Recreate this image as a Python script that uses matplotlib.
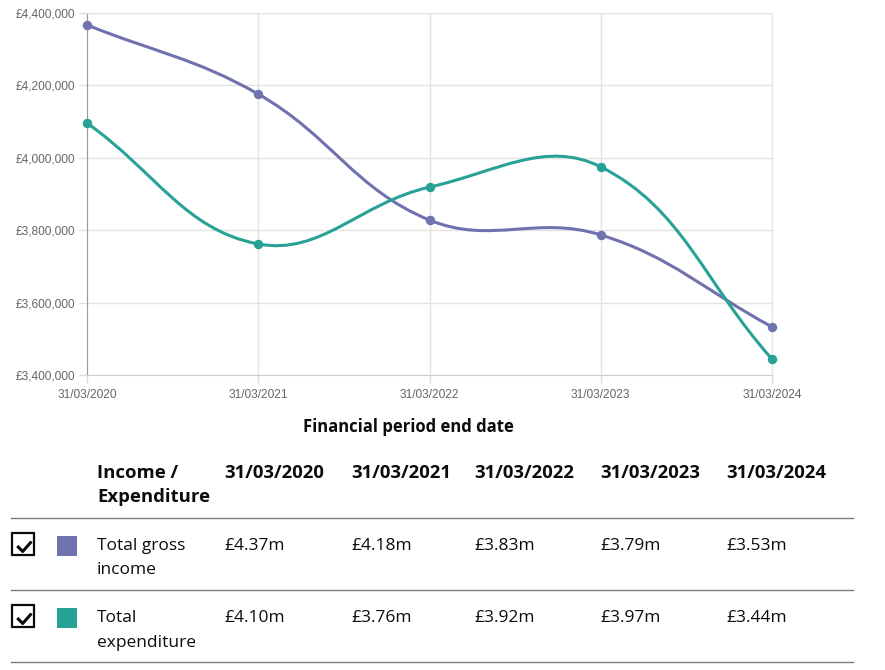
import matplotlib
matplotlib.use("Agg")
import matplotlib.pyplot as plt
import numpy as np
from matplotlib.path import Path
from matplotlib.patches import PathPatch, Rectangle
from matplotlib.lines import Line2D
from matplotlib.ticker import FuncFormatter, MultipleLocator

dates = ["31/03/2020", "31/03/2021", "31/03/2022", "31/03/2023", "31/03/2024"]
income = [4367000, 4176000, 3828000, 3787000, 3533000]
expenditure = [4096000, 3762000, 3919000, 3975000, 3444000]
income_labels = ["£4.37m", "£4.18m", "£3.83m", "£3.79m", "£3.53m"]
expend_labels = ["£4.10m", "£3.76m", "£3.92m", "£3.97m", "£3.44m"]
series_names = ["Total gross\nincome", "Total\nexpenditure"]
PURPLE = "#6f72af"
TEAL = "#28a197"

W, H = 885, 670
fig = plt.figure(figsize=(W / 100, H / 100), dpi=100)

def fx(px):
    return px / W

def fy(py):
    return 1 - py / H

ax = fig.add_axes([fx(87), fy(375), (772 - 87) / W, (375 - 13) / H])
x = np.arange(len(dates))
ax.set_xlim(0, len(dates) - 1)
ax.set_ylim(3400000, 4400000)
ax.yaxis.set_major_locator(MultipleLocator(200000))
ax.yaxis.set_major_formatter(FuncFormatter(lambda v, p: "£{:,.0f}".format(v)))
ax.set_xticks(x)
ax.set_xticklabels(dates)
ax.grid(True, color="#e3e3e3", linewidth=1)
ax.set_axisbelow(True)
for s in ["top", "right"]:
    ax.spines[s].set_color("#e3e3e3")
ax.spines["left"].set_color("#9a9a9a")
ax.spines["bottom"].set_color("#cfcfcf")
ax.tick_params(axis="both", length=6, width=1, color="#dddddd", labelcolor="#666666",
               labelsize=8.6, pad=2.5)
ax.tick_params(axis="x", pad=4)
for lab in ax.get_xticklabels() + ax.get_yticklabels():
    lab.set_family(["Liberation Sans", "DejaVu Sans"])


def spline_path(xs, ys, tension=0.4):
    pts = ax.transData.transform(np.column_stack([xs, ys]))
    n = len(pts)
    cps = []
    for i in range(n):
        prev = pts[i - 1] if i > 0 else pts[i]
        cur = pts[i]
        nxt = pts[i + 1] if i < n - 1 else pts[i]
        d01 = np.hypot(*(cur - prev))
        d12 = np.hypot(*(nxt - cur))
        tot = d01 + d12
        s01 = d01 / tot if tot else 0
        s12 = d12 / tot if tot else 0
        fa = tension * s01
        fb = tension * s12
        cp1 = cur - fa * (nxt - prev)
        cp2 = cur + fb * (nxt - prev)
        cps.append((cp1, cp2))
    verts = [pts[0]]
    codes = [Path.MOVETO]
    for i in range(n - 1):
        verts += [cps[i][1], cps[i + 1][0], pts[i + 1]]
        codes += [Path.CURVE4] * 3
    inv = ax.transData.inverted()
    return Path(inv.transform(np.array(verts)), codes)


for ys, col in [(income, PURPLE), (expenditure, TEAL)]:
    p = spline_path(x, ys)
    ax.add_patch(PathPatch(p, facecolor="none", edgecolor=col, linewidth=2.2,
                           capstyle="round", joinstyle="round", zorder=3))
    ax.plot(x, ys, linestyle="none", marker="o", markersize=5.8, color=col, zorder=4,
            clip_on=False)

FONT = ["Open Sans", "DejaVu Sans"]
fig.text(fx(408), fy(427), "Financial period end date", ha="center", va="center",
         fontsize=12, fontweight="bold", family=FONT, color="#0b0c0c")

# table
col_x = [224, 351, 474, 600, 726]
HS = 13.3
fig.text(fx(97), fy(477.5), "Income /", fontsize=HS, fontweight="bold", family=FONT,
         color="#0b0c0c", va="baseline")
fig.text(fx(97), fy(502), "Expenditure", fontsize=HS, fontweight="bold", family=FONT,
         color="#0b0c0c", va="baseline")
for cx, d in zip(col_x, dates):
    fig.text(fx(cx), fy(477.5), d, fontsize=HS, fontweight="bold", family=FONT,
             color="#0b0c0c", va="baseline")

for ly in [518.3, 590.3, 662]:
    fig.add_artist(Line2D([fx(11), fx(853)], [fy(ly), fy(ly)], color="#777b7e", linewidth=1))

BS = 12.5
rows = [(series_names[0], income_labels, PURPLE, 532, 550),
        (series_names[1], expend_labels, TEAL, 604, 622.3)]
for name, vals, col, top, base in rows:
    # checkbox
    fig.add_artist(Rectangle((fx(12), fy(top + 23)), 22 / W, 22 / H, facecolor="white",
                             edgecolor="#0b0c0c", linewidth=1.6))
    fig.add_artist(Line2D([fx(17.3), fx(22.7), fx(31.5)],
                          [fy(top + 14), fy(top + 19.5), fy(top + 9.5)],
                          color="#0b0c0c", linewidth=2.2, solid_capstyle="butt"))
    # colour key
    fig.add_artist(Rectangle((fx(57), fy(top + 24)), 20 / W, 20 / H, facecolor=col,
                             edgecolor="none"))
    l1, l2 = name.split("\n")
    fig.text(fx(97), fy(base), l1, fontsize=BS, family=FONT, color="#0b0c0c", va="baseline")
    fig.text(fx(97), fy(base + 24.5), l2, fontsize=BS, family=FONT, color="#0b0c0c",
             va="baseline")
    for cx, v in zip(col_x, vals):
        fig.text(fx(cx), fy(base), v, fontsize=BS, family=FONT, color="#0b0c0c",
                 va="baseline")

fig.savefig("out.png", dpi=100)
